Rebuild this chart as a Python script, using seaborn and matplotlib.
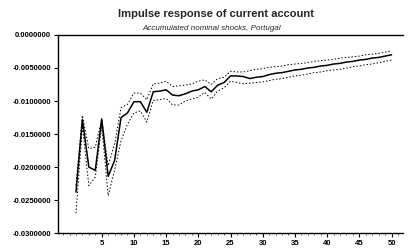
import pandas as pd
import matplotlib.pyplot as plt
import seaborn as sns
from matplotlib.ticker import FormatStrFormatter, MultipleLocator

# Impulse response of the current account, Portugal
horizon = list(range(1, 51))

response = [
    -0.0238, -0.0128, -0.0200, -0.0205, -0.0127, -0.0214, -0.0190, -0.0125, -0.0118, -0.0101,
    -0.0101, -0.0117, -0.0086, -0.0085, -0.0083, -0.0091, -0.0092, -0.0089, -0.0085, -0.0083,
    -0.0078, -0.0086, -0.0076, -0.0072, -0.0062, -0.0062, -0.0063, -0.0066, -0.0064, -0.0063,
    -0.0060, -0.0058, -0.0057, -0.0055, -0.0053, -0.0052, -0.0050, -0.0049, -0.0047, -0.0046,
    -0.0044, -0.0043, -0.0041, -0.0040, -0.0038, -0.0037, -0.0035, -0.0034, -0.0032, -0.0030,
]

upper_band = [
    -0.0228, -0.0122, -0.0172, -0.0170, -0.0128, -0.0198, -0.0165, -0.0110, -0.0105, -0.0088,
    -0.0088, -0.0098, -0.0074, -0.0073, -0.0070, -0.0078, -0.0077, -0.0076, -0.0074, -0.0070,
    -0.0068, -0.0075, -0.0066, -0.0064, -0.0055, -0.0056, -0.0056, -0.0054, -0.0052, -0.0051,
    -0.0049, -0.0048, -0.0047, -0.0045, -0.0044, -0.0043, -0.0042, -0.0040, -0.0039, -0.0038,
    -0.0037, -0.0035, -0.0034, -0.0033, -0.0032, -0.0030, -0.0029, -0.0028, -0.0026, -0.0024,
]

lower_band = [
    -0.0270, -0.0138, -0.0228, -0.0215, -0.0138, -0.0243, -0.0205, -0.0160, -0.0135, -0.0118,
    -0.0115, -0.0132, -0.0099, -0.0098, -0.0096, -0.0106, -0.0106, -0.0100, -0.0097, -0.0094,
    -0.0087, -0.0097, -0.0085, -0.0080, -0.0070, -0.0072, -0.0074, -0.0073, -0.0072, -0.0071,
    -0.0069, -0.0067, -0.0066, -0.0064, -0.0062, -0.0061, -0.0059, -0.0057, -0.0056, -0.0054,
    -0.0053, -0.0052, -0.0050, -0.0048, -0.0047, -0.0045, -0.0044, -0.0042, -0.0040, -0.0038,
]

y_ticks = [0.0, -0.005, -0.010, -0.015, -0.020, -0.025, -0.030]
x_ticks = [5, 10, 15, 20, 25, 30, 35, 40, 45, 50]

df = pd.DataFrame({
    "step": horizon * 3,
    "value": response + upper_band + lower_band,
    "series": ["response"] * 50 + ["upper"] * 50 + ["lower"] * 50,
})

sns.set_style("ticks")
plt.rcParams["font.family"] = ["Liberation Sans", "DejaVu Sans"]

fig = plt.figure(figsize=(4.08, 2.48), dpi=100)
ax = fig.add_axes([0.142, 0.060, 0.846, 0.799])

sns.lineplot(data=df[df["series"] == "response"], x="step", y="value",
             color="black", linewidth=1.1, ax=ax)
for band in ["upper", "lower"]:
    sns.lineplot(data=df[df["series"] == band], x="step", y="value",
                 color="black", linewidth=0.7, linestyle=(0, (1.5, 2)), ax=ax)

ax.set_xlim(-1.8, 51.8)
ax.set_ylim(-0.030, 0.0)
ax.set_xticks(x_ticks)
ax.set_yticks(y_ticks)
ax.xaxis.set_minor_locator(MultipleLocator(1))
ax.yaxis.set_major_formatter(FormatStrFormatter("%.7f"))
ax.tick_params(axis="both", labelsize=5.5, width=0.8, length=3, pad=2, colors="black")
ax.tick_params(axis="x", which="minor", length=1.5, width=0.5)
for lab in ax.get_xticklabels() + ax.get_yticklabels():
    lab.set_fontweight("bold")
ax.set_xlabel("")
ax.set_ylabel("")

for side in ["left", "top", "bottom"]:
    ax.spines[side].set_visible(True)
    ax.spines[side].set_linewidth(1.0)
    ax.spines[side].set_color("black")
ax.spines["right"].set_visible(False)

fig.text(0.53, 0.945, "Impulse response of current account",
         ha="center", va="center", fontsize=8, fontweight="heavy")
fig.text(0.52, 0.885, "Accumulated nominal shocks, Portugal",
         ha="center", va="center", fontsize=5.8, style="italic")

fig.savefig("out.png", dpi=100)
